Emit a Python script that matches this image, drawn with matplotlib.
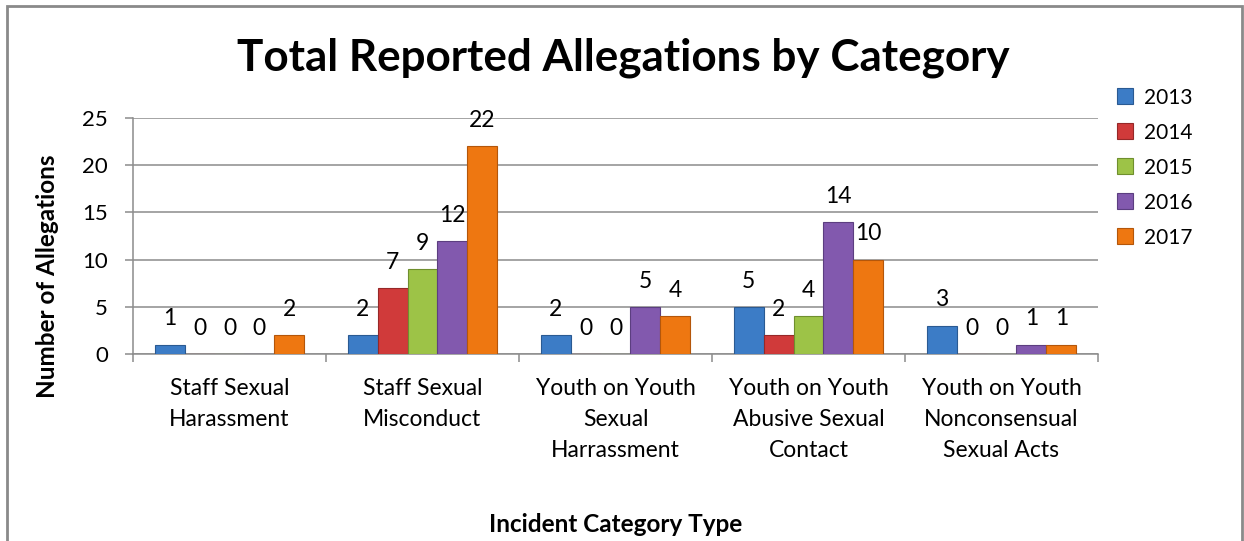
import numpy as np
import matplotlib.pyplot as plt
from matplotlib.patches import Rectangle

plt.rcParams['font.family'] = ['Lato', 'DejaVu Sans']

# Categories and yearly allegation counts
categories = ['Staff Sexual\nHarassment', 'Staff Sexual\nMisconduct',
              'Youth on Youth\nSexual\nHarrassment', 'Youth on Youth\nAbusive Sexual\nContact',
              'Youth on Youth\nNonconsensual\nSexual Acts']
years = ['2013', '2014', '2015', '2016', '2017']
counts_2013 = [1, 2, 2, 5, 3]
counts_2014 = [0, 7, 0, 2, 0]
counts_2015 = [0, 9, 0, 4, 0]
counts_2016 = [0, 12, 5, 14, 1]
counts_2017 = [2, 22, 4, 10, 1]
all_counts = [counts_2013, counts_2014, counts_2015, counts_2016, counts_2017]

colors = ['#3C7CC6', '#D03A3A', '#9DC347', '#8259AE', '#EE7711']
edges = ['#2A5A92', '#962828', '#6F8F2E', '#5C3E80', '#B4560A']

fig = plt.figure(figsize=(12.44, 5.41), dpi=100)
ax = fig.add_axes([0.1069, 0.3457, 0.7757, 0.4362])

x = np.arange(len(categories))
width = 0.155

for i, (yr, vals) in enumerate(zip(years, all_counts)):
    pos = x + (i - 2) * width
    ax.bar(pos, vals, width, color=colors[i], edgecolor=edges[i], linewidth=0.8,
           label=yr, zorder=3)
    for px, v in zip(pos, vals):
        ax.annotate(str(v), (px, v), xytext=(0, 18.5), textcoords='offset points',
                    ha='center', va='center', fontsize=16.5)

ax.set_xlim(-0.5, len(categories) - 0.5)
ax.set_ylim(0, 25)
ax.set_yticks([0, 5, 10, 15, 20, 25])
ax.yaxis.grid(True, color='#8C8C8C', linewidth=1.1, zorder=0)
ax.set_axisbelow(True)

# category labels between boundary ticks
ax.set_xticks(np.arange(-0.5, len(categories), 1))
ax.set_xticklabels([])
ax.set_xticks(x, minor=True)
ax.set_xticklabels(categories, minor=True, fontsize=16.5, linespacing=1.6)
ax.tick_params(axis='x', which='minor', length=0, pad=17)
ax.tick_params(axis='x', which='major', length=6, color='#8C8C8C', width=1.1)
ax.tick_params(axis='y', length=6, color='#8C8C8C', width=1.1, labelsize=16, pad=12)

for s in ['top', 'right']:
    ax.spines[s].set_visible(False)
for s in ['left', 'bottom']:
    ax.spines[s].set_color('#8C8C8C')
    ax.spines[s].set_linewidth(1.1)

fig.text(0.5008, 0.893, 'Total Reported Allegations by Category', ha='center', va='center',
         fontsize=31.7, fontweight='bold')
fig.text(0.0378, 0.49, 'Number of Allegations', rotation=90, ha='center', va='center',
         fontsize=17.5, fontweight='bold')
fig.text(0.4948, 0.031, 'Incident Category Type', ha='center', va='center',
         fontsize=17.5, fontweight='bold')

ax.legend(loc='upper left', bbox_to_anchor=(1.0, 1.208), frameon=False, fontsize=15,
          handlelength=0.8, handleheight=0.8, handletextpad=0.5, labelspacing=0.72)

fig.patches.append(Rectangle((0.0056, -0.02), 0.9928, 1.009, transform=fig.transFigure,
                             fill=False, edgecolor='#8A8A8A', linewidth=2))

fig.savefig('out.png', dpi=100)
